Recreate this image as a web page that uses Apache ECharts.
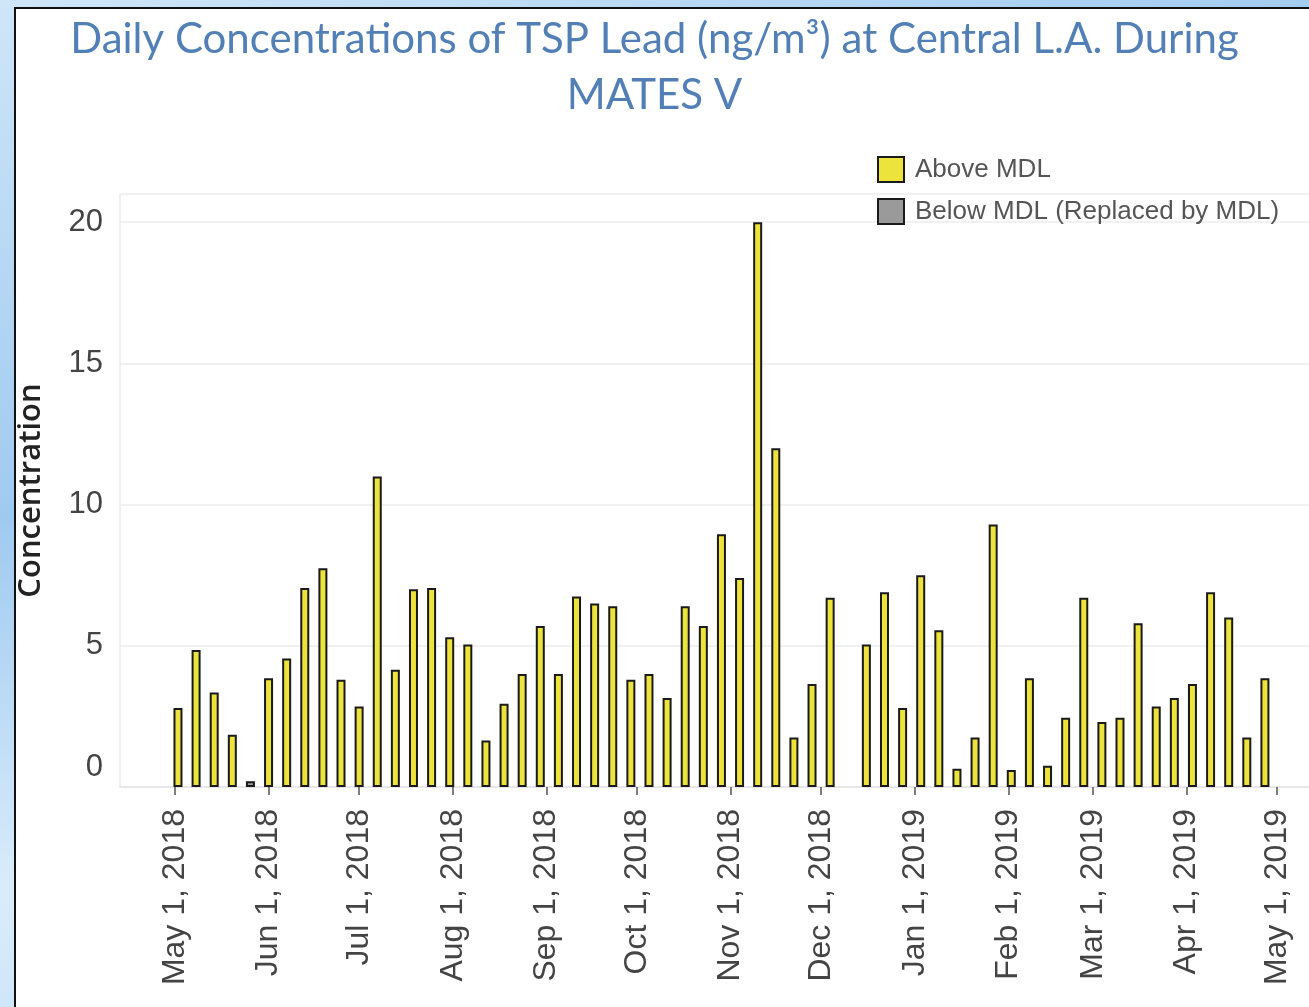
<!DOCTYPE html>
<html>
<head>
<meta charset="utf-8">
<script src="https://cdn.jsdelivr.net/npm/echarts@6/dist/echarts.min.js"></script>
<style>
  html, body { margin: 0; padding: 0; width: 1309px; height: 1007px; overflow: hidden;
    background: linear-gradient(160deg, #cfe6f8 0%, #9fcaf0 35%, #d9ecfb 60%, #a9d2f3 100%); }
  #panel { position: absolute; left: 14px; top: 7px; width: 1320px; height: 1020px;
    background: #ffffff; border: 2.5px solid #111; box-sizing: border-box; }
  #chart { position: absolute; left: 0; top: 0; width: 1309px; height: 1007px; }
</style>
</head>
<body>
<div id="panel"></div>
<div id="chart"></div>
<script>
// ---- data ----
const aboveDates = [
  '2018-05-02','2018-05-08','2018-05-14','2018-05-20',
  '2018-06-01','2018-06-07','2018-06-13','2018-06-19','2018-06-25',
  '2018-07-01','2018-07-07','2018-07-13','2018-07-19','2018-07-25','2018-07-31',
  '2018-08-06','2018-08-12','2018-08-18','2018-08-24','2018-08-30',
  '2018-09-05','2018-09-11','2018-09-17','2018-09-23','2018-09-29',
  '2018-10-05','2018-10-11','2018-10-17','2018-10-23','2018-10-29',
  '2018-11-04','2018-11-10','2018-11-16','2018-11-22','2018-11-28',
  '2018-12-04','2018-12-16','2018-12-22','2018-12-28',
  '2019-01-03','2019-01-09','2019-01-15','2019-01-21','2019-01-27',
  '2019-02-02','2019-02-08','2019-02-14','2019-02-20','2019-02-26',
  '2019-03-04','2019-03-10','2019-03-16','2019-03-22','2019-03-28',
  '2019-04-03','2019-04-09','2019-04-15','2019-04-21','2019-04-27'
];
const aboveValues = [
  2.8, 4.85, 3.35, 1.85,
  3.85, 4.55, 7.05, 7.75, 3.8,
  2.85, 11.0, 4.15, 7.0, 7.05, 5.3,
  5.05, 1.65, 2.95, 4.0, 5.7,
  4.0, 6.75, 6.5, 6.4, 3.8,
  4.0, 3.15, 6.4, 5.7, 8.95,
  7.4, 20.0, 12.0, 1.75, 3.65,
  6.7, 5.05, 6.9, 2.8,
  7.5, 5.55, 0.65, 1.75, 9.3,
  0.6, 3.85, 0.75, 2.45, 6.7,
  2.3, 2.45, 5.8, 2.85, 3.15,
  3.65, 6.9, 6.0, 1.75, 3.85
];
const belowDates = ['2018-05-26'];
const belowValues = [0.2];
const tickDates = ['2018-05-01','2018-06-01','2018-07-01','2018-08-01','2018-09-01','2018-10-01',
  '2018-11-01','2018-12-01','2019-01-01','2019-02-01','2019-03-01','2019-04-01','2019-05-01'];
const yTicks = [0, 5, 10, 15, 20];
const monthNames = ['Jan','Feb','Mar','Apr','May','Jun','Jul','Aug','Sep','Oct','Nov','Dec'];
const seriesNames = ['Above MDL', 'Below MDL (Replaced by MDL)'];
const titleText = 'Daily Concentrations of TSP Lead (ng/m\u00B3) at Central L.A. During\nMATES V';

// ---- helpers ----
function parseLocal(s) { const p = s.split('-').map(Number); return new Date(p[0], p[1] - 1, p[2]).getTime(); }
const DAY = 864e5;
const xMin = parseLocal('2018-05-01') - 18.2 * DAY;
const xMax = parseLocal('2019-05-01') + 10.6 * DAY;
const tickValues = tickDates.map(parseLocal);

const chart = echarts.init(document.getElementById('chart'), null, { renderer: 'canvas' });
chart.setOption({
  animation: false,
  backgroundColor: 'transparent',
  title: {
    text: titleText,
    left: 'center',
    top: 6,
    textStyle: { fontFamily: 'Lato', fontSize: 42, fontWeight: 'normal', color: '#5280b6', lineHeight: 56 }
  },
  legend: {
    orient: 'vertical',
    left: 872,
    top: 151,
    itemWidth: 26,
    itemHeight: 25,
    itemGap: 15,
    icon: 'rect',
    textStyle: { fontFamily: 'Liberation Sans', fontSize: 26, color: '#555', padding: [0, 0, 0, 6] },
    data: seriesNames
  },
  grid: { left: 120, right: 0, top: 194, bottom: 220, containLabel: false, outerBoundsMode: 'none' },
  xAxis: {
    type: 'value',
    min: xMin,
    max: xMax,
    axisLine: { show: true, lineStyle: { color: '#e4e4e4', width: 1.5 } },
    axisTick: { show: true, length: 8, lineStyle: { color: '#555', width: 1.5 },
      customValues: tickValues },
    splitLine: { show: false },
    axisLabel: {
      customValues: tickValues,
      rotate: 90,
      margin: 22,
      fontFamily: 'Liberation Sans',
      fontSize: 32,
      color: '#444',
      formatter: function (v) {
        const d = new Date(v);
        return monthNames[d.getMonth()] + ' ' + d.getDate() + ', ' + d.getFullYear();
      }
    }
  },
  yAxis: {
    type: 'value',
    min: 0,
    max: 21,
    interval: 5,
    name: 'Concentration',
    nameLocation: 'middle',
    nameGap: 73,
    nameRotate: 90,
    nameTextStyle: { fontFamily: 'Open Sans', fontSize: 31, fontWeight: 600, color: '#222' },
    axisLine: { show: true, lineStyle: { color: '#ededed', width: 1.5 } },
    axisTick: { show: false },
    splitLine: { show: true, lineStyle: { color: '#ececec', width: 1.5 } },
    axisLabel: {
      customValues: yTicks,
      margin: 17,
      fontFamily: 'Liberation Sans',
      fontSize: 31,
      color: '#444',
      formatter: function (v) { return v === 0 ? '{z|0}' : String(v); },
      rich: { z: { fontFamily: 'Liberation Sans', fontSize: 31, color: '#444', padding: [0, 0, 40, 0] } }
    }
  },
  series: [
    {
      name: seriesNames[0],
      type: 'bar',
      barWidth: 9,
      barGap: '-100%',
      itemStyle: { color: '#ede33d', borderColor: '#1a1a1a', borderWidth: 2 },
      data: aboveDates.map((d, i) => [parseLocal(d), aboveValues[i]])
    },
    {
      name: seriesNames[1],
      type: 'bar',
      barWidth: 9,
      barGap: '-100%',
      itemStyle: { color: '#9a9a9a', borderColor: '#1a1a1a', borderWidth: 2 },
      data: belowDates.map((d, i) => [parseLocal(d), belowValues[i]])
    }
  ]
});
</script>
</body>
</html>
